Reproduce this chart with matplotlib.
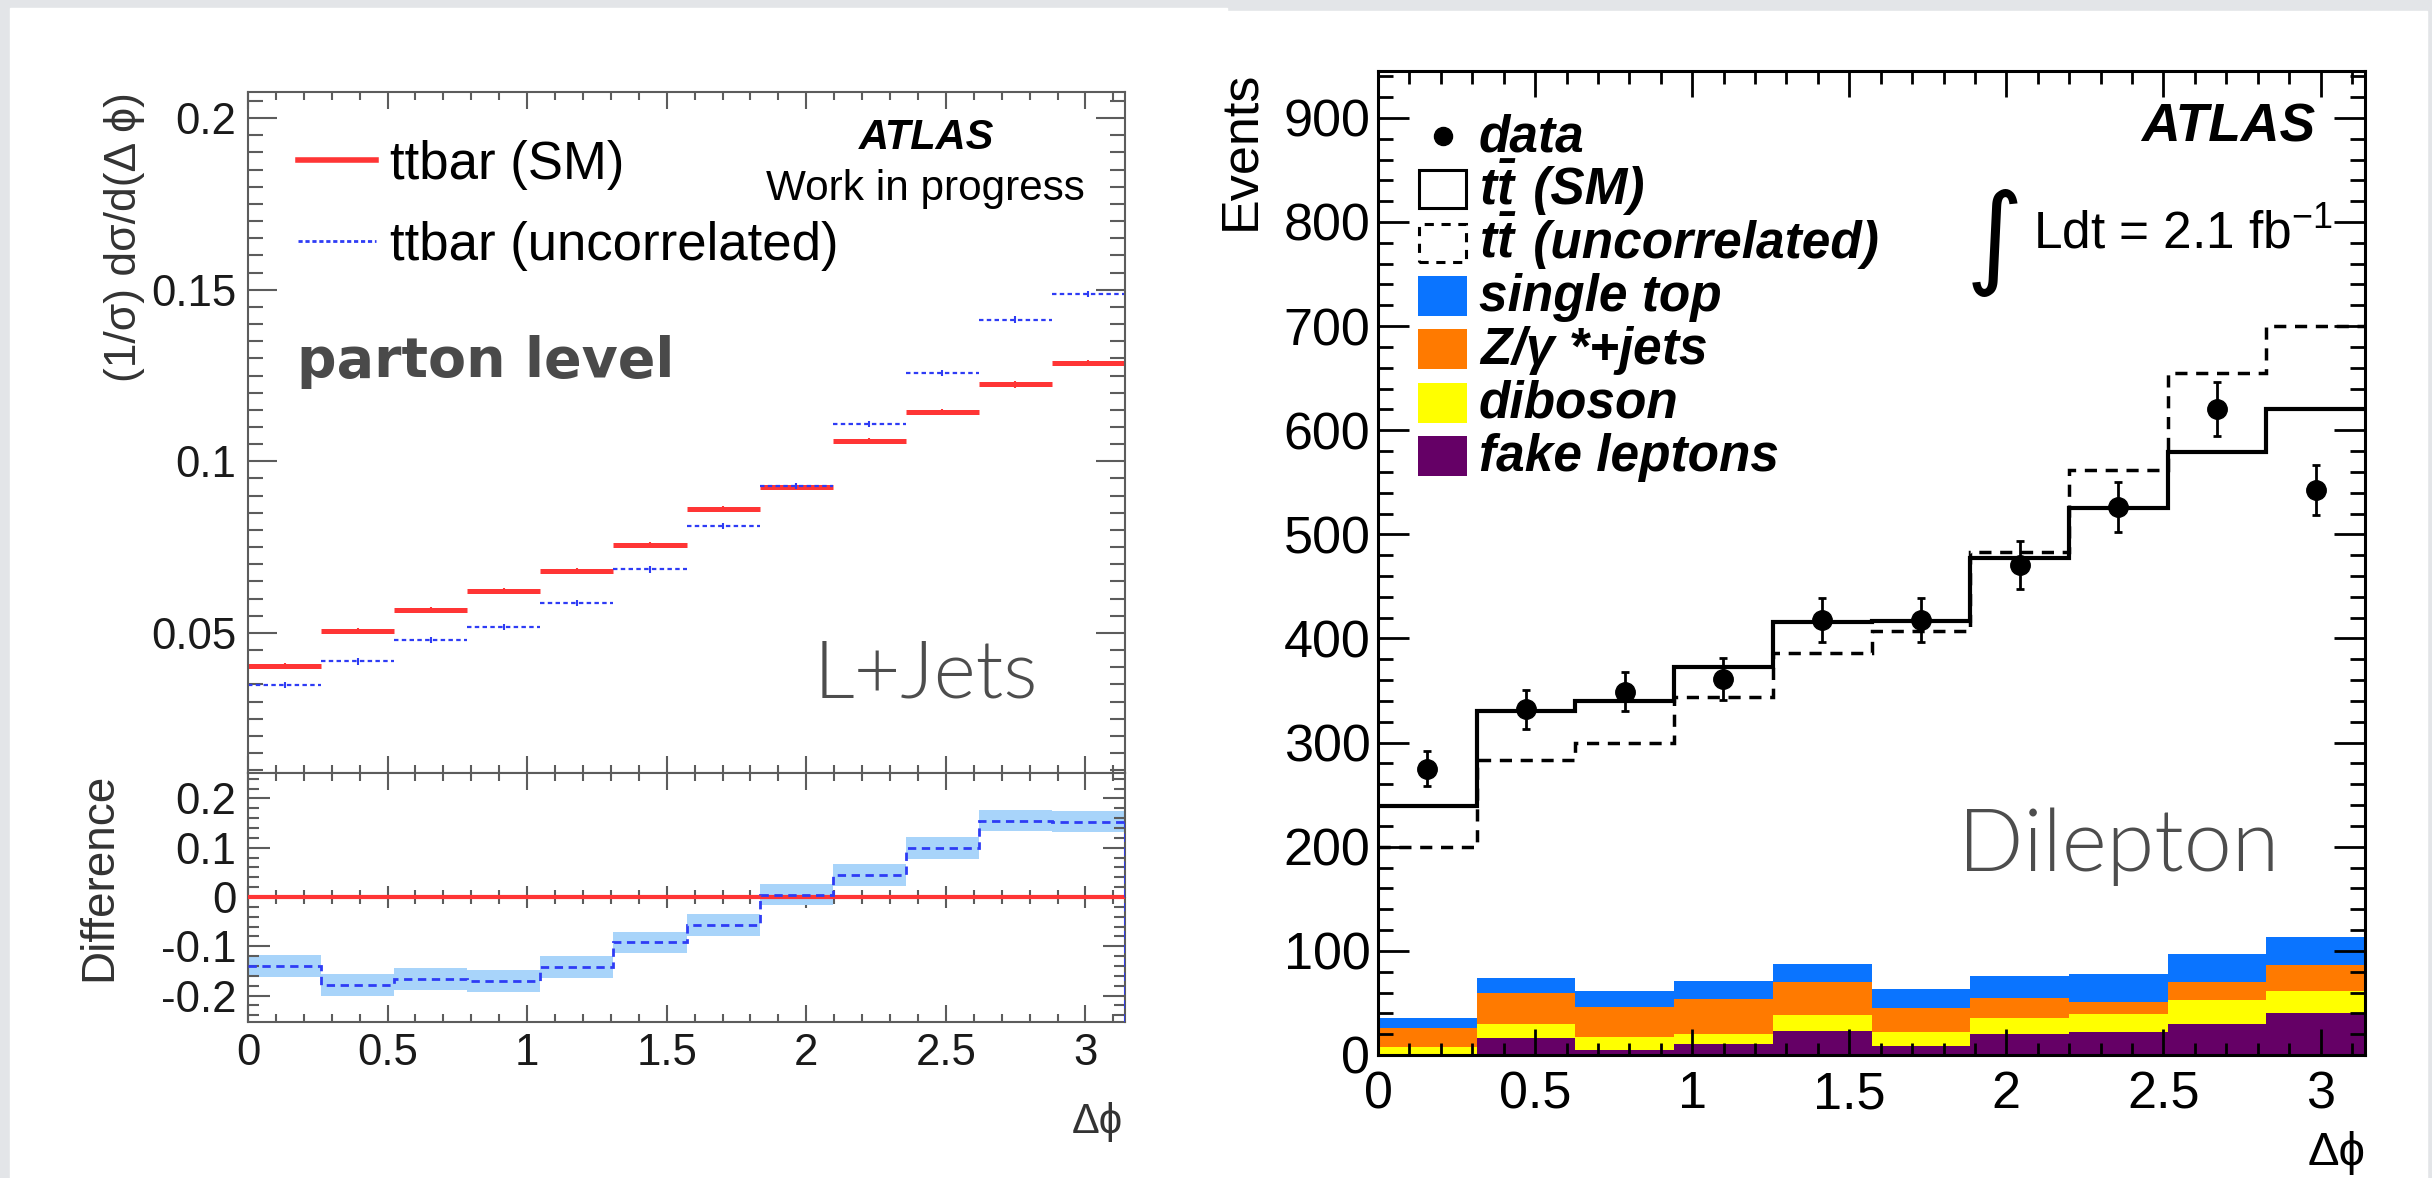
import numpy as np
import matplotlib
matplotlib.use('Agg')
import matplotlib.pyplot as plt
from matplotlib.patches import Rectangle
from matplotlib.lines import Line2D
from matplotlib.ticker import MultipleLocator

plt.rcParams['font.family'] = ['Liberation Sans', 'DejaVu Sans']
plt.rcParams['axes.unicode_minus'] = False
plt.rcParams['mathtext.fontset'] = 'custom'
plt.rcParams['mathtext.rm'] = 'Liberation Sans'
plt.rcParams['mathtext.it'] = 'Liberation Sans:italic'
plt.rcParams['mathtext.bf'] = 'Liberation Sans:bold'
plt.rcParams['mathtext.bfit'] = 'Liberation Sans:italic:bold'

# ---- L+Jets, parton level (12 bins in delta phi) ----
lj_sm = [0.0403, 0.0505, 0.0568, 0.0622, 0.0680, 0.0757, 0.0860, 0.0925, 0.1059, 0.1143, 0.1224, 0.1287]
lj_unc = [0.0348, 0.0417, 0.0479, 0.0518, 0.0587, 0.0685, 0.0812, 0.0928, 0.1109, 0.1257, 0.1413, 0.1487]
lj_err = [0.0009] * 12
lj_diff = [-0.140, -0.178, -0.166, -0.170, -0.142, -0.092, -0.057, 0.005, 0.045, 0.099, 0.155, 0.153]
lj_diff_err = [0.022] * 12

# ---- Dilepton (10 bins) ----
dl_sm = [239, 330, 340, 373, 416, 417, 477, 525, 579, 620]
dl_unc = [200, 283, 300, 344, 386, 407, 483, 562, 655, 700]
dl_data = [275, 332, 349, 361, 418, 418, 471, 526, 620, 543]
dl_data_err = [17, 19, 19, 20, 21, 21, 23, 24, 26, 24]
dl_fake = [1, 16, 5, 11, 23, 9, 20, 22, 30, 40]
dl_diboson = [7, 14, 12, 9, 15, 13, 16, 17, 23, 21]
dl_zjets = [18, 30, 29, 34, 32, 23, 19, 12, 17, 25]
dl_stop = [10, 14, 15, 17, 17, 18, 21, 27, 27, 27]

xtick_vals = [0, 0.5, 1, 1.5, 2, 2.5, 3]
xtick_labels = ['0', '0.5', '1', '1.5', '2', '2.5', '3']

W, H = 2432, 1178
def fx(x):
    return x / W
def fy(y):
    return 1 - y / H

fig = plt.figure(figsize=(W / 100, H / 100), dpi=100)
fig.patch.set_facecolor('#e3e5e8')
fig.patches.append(Rectangle((fx(10), 0), (1227 - 10) / W, (H - 8) / H,
                             transform=fig.transFigure, color='white', zorder=-5))
fig.patches.append(Rectangle((fx(1227), 0), (2427 - 1227) / W, (H - 11) / H,
                             transform=fig.transFigure, color='white', zorder=-5))

red = '#ff3535'
blue = '#2e3cf5'
gray = '#5c5c5c'
c_stop, c_zjets, c_dib, c_fake = '#0a74ff', '#ff7a00', '#ffff00', '#650066'

lj_edges = np.linspace(0, np.pi, len(lj_sm) + 1)
lj_cent = 0.5 * (lj_edges[:-1] + lj_edges[1:])

# upper left: normalised distributions
ax1 = fig.add_axes([fx(248), fy(773), (1125 - 248) / W, (773 - 92) / H])
ax1.hlines(lj_sm, lj_edges[:-1], lj_edges[1:], color=red, lw=3.6)
ax1.errorbar(lj_cent, lj_sm, yerr=lj_err, fmt='none', ecolor=red, elinewidth=1.5)
ax1.hlines(lj_unc, lj_edges[:-1], lj_edges[1:], color=blue, lw=1.6, linestyle=(0, (2, 1.5)))
ax1.errorbar(lj_cent, lj_unc, yerr=lj_err, fmt='none', ecolor=blue, elinewidth=1.5)
ax1.set_xlim(0, np.pi)
ax1.set_ylim(0.0092, 0.2076)
ax1.set_yticks([0.05, 0.1, 0.15, 0.2], ['0.05', '0.1', '0.15', '0.2'])
ax1.yaxis.set_minor_locator(MultipleLocator(0.005))
ax1.xaxis.set_major_locator(MultipleLocator(0.5))
ax1.xaxis.set_minor_locator(MultipleLocator(0.1))
ax1.tick_params(axis='both', which='both', direction='in', top=True, right=True,
                colors=gray, labelcolor='#1a1a1a', labelbottom=False)
ax1.tick_params(axis='y', which='major', length=21, width=1.5, labelsize=31.5, pad=8.5)
ax1.tick_params(axis='y', which='minor', length=10.5, width=1.5)
ax1.tick_params(axis='x', which='major', length=12, width=1.5)
ax1.tick_params(axis='x', which='minor', length=6, width=1.5)
for s in ax1.spines.values():
    s.set_color(gray)
    s.set_linewidth(1.5)

ax1.legend([Line2D([], [], color=red, lw=4),
            Line2D([], [], color=blue, lw=2, linestyle=(0, (1.5, 1)))],
           ['ttbar (SM)', 'ttbar (uncorrelated)'],
           loc='upper left', bbox_to_anchor=(0.057, 0.93), frameon=False,
           fontsize=38, handlelength=1.48, handletextpad=0.27, labelspacing=0.59,
           borderpad=0, borderaxespad=0)

# lower left: difference
ax2 = fig.add_axes([fx(248), fy(1022), (1125 - 248) / W, (1022 - 773) / H])
ylo, yhi = -0.2535, 0.2515
d = np.array(lj_diff)
de = np.array(lj_diff_err)
ax2.fill_between(lj_edges, np.append(d - de, d[-1] - de[-1]), np.append(d + de, d[-1] + de[-1]),
                 step='post', color='#a8d4fa', lw=0)
ax2.axhline(0, color=red, lw=3, zorder=3)
ax2.stairs(lj_diff, lj_edges, baseline=None, color=blue, lw=2, linestyle=(0, (3, 2)), zorder=4)
ax2.vlines(lj_edges[-1], ylo, lj_diff[-1], color=blue, lw=2, linestyle=(0, (3, 2)), zorder=4)
ax2.set_xlim(0, np.pi)
ax2.set_ylim(ylo, yhi)
ax2.set_yticks([-0.2, -0.1, 0, 0.1, 0.2], ['-0.2', '-0.1', '0', '0.1', '0.2'])
ax2.yaxis.set_minor_locator(MultipleLocator(0.02))
ax2.set_xticks(xtick_vals, xtick_labels)
ax2.xaxis.set_minor_locator(MultipleLocator(0.1))
ax2.tick_params(axis='both', which='both', direction='in', top=True, right=True,
                colors=gray, labelcolor='#1a1a1a')
ax2.tick_params(axis='y', which='major', length=16, width=1.5, labelsize=31.5, pad=8.5)
ax2.tick_params(axis='y', which='minor', length=8, width=1.5)
ax2.tick_params(axis='x', which='major', length=12, width=1.5, labelsize=31.5, pad=8)
ax2.tick_params(axis='x', which='minor', length=6, width=1.5)
for s in ax2.spines.values():
    s.set_color(gray)
    s.set_linewidth(1.5)
zero_ax = ax2.secondary_xaxis((0 - ylo) / (yhi - ylo))
zero_ax.set_xticks(xtick_vals, [''] * len(xtick_vals))
zero_ax.xaxis.set_minor_locator(MultipleLocator(0.1))
zero_ax.tick_params(which='both', direction='inout', colors=gray, width=1.5)
zero_ax.tick_params(which='major', length=16)
zero_ax.tick_params(which='minor', length=10)
zero_ax.spines['bottom'].set_visible(False)

fig.text(fx(125), fy(92), '(1/σ) dσ/d(Δ ϕ)', rotation=90, ha='center', va='top',
         fontsize=32, color='#333333')
fig.text(fx(99), fy(773), 'Difference', rotation=90, ha='center', va='top',
         fontsize=33, color='#333333')
fig.text(fx(1123), fy(1122), 'Δϕ', ha='right', va='center', fontsize=30, color='#333333')
fig.text(fx(927), fy(149), 'ATLAS', ha='center', va='baseline', fontsize=30,
         fontweight='bold', style='italic')
fig.text(fx(1085), fy(200), 'Work in progress', ha='right', va='baseline', fontsize=30.4)
fig.text(fx(297), fy(377), 'parton level', ha='left', va='baseline', fontsize=40,
         fontweight='bold', family=['DejaVu Sans'], color='#4a4a4a')
fig.text(fx(814), fy(698), 'L+Jets', ha='left', va='baseline', fontsize=58,
         fontweight=300, family=['Lato', 'DejaVu Sans'], color='#4d4d4d')

# right: dilepton
dl_edges = np.linspace(0, np.pi, len(dl_sm) + 1)
dl_cent = 0.5 * (dl_edges[:-1] + dl_edges[1:])
dl_w = np.diff(dl_edges)

ax3 = fig.add_axes([fx(1378), fy(1055), (2365 - 1378) / W, (1055 - 71) / H])
bottom = np.zeros(len(dl_sm))
for vals, col in [(dl_fake, c_fake), (dl_diboson, c_dib), (dl_zjets, c_zjets), (dl_stop, c_stop)]:
    ax3.bar(dl_edges[:-1], vals, width=dl_w, align='edge', bottom=bottom, color=col, lw=0)
    bottom = bottom + np.array(vals)
ax3.stairs(dl_sm, dl_edges, baseline=None, color='black', lw=3)
ax3.stairs(dl_unc, dl_edges, baseline=None, color='black', lw=2.5, linestyle=(0, (3.5, 2.5)))
ax3.errorbar(dl_cent, dl_data, yerr=dl_data_err, fmt='o', color='black', ms=14,
             elinewidth=2, capsize=3, capthick=2)
ax3.set_xlim(0, np.pi)
ax3.set_ylim(0, 945)
ax3.set_xticks(xtick_vals, xtick_labels)
ax3.xaxis.set_minor_locator(MultipleLocator(0.1))
ax3.yaxis.set_major_locator(MultipleLocator(100))
ax3.yaxis.set_minor_locator(MultipleLocator(20))
ax3.tick_params(axis='both', which='both', direction='in', top=True, right=True, width=2)
ax3.tick_params(axis='y', which='major', length=22, labelsize=37.5, pad=5.5)
ax3.tick_params(axis='y', which='minor', length=11)
ax3.tick_params(axis='x', which='major', length=19, labelsize=37.5, pad=11)
ax3.tick_params(axis='x', which='minor', length=9)
for s in ax3.spines.values():
    s.set_linewidth(2.2)

# legend of the dilepton panel, laid out row by row as in the original
# (the t-tbar symbol is drawn as mathtext, the rest of the label as plain text after it)
leg_labels = [('', 'data'), (r'$\mathbfit{t\bar{t}}$', ' (SM)'),
              (r'$\mathbfit{t\bar{t}}$', ' (uncorrelated)'), ('', 'single top'),
              ('', r'Z/$\mathregular{\gamma}$ *+jets'), ('', 'diboson'), ('', 'fake leptons')]
leg_kinds = ['dot', 'solid', 'dashed', c_stop, c_zjets, c_dib, c_fake]
leg_font = dict(fontsize=37, fontweight='bold', style='italic', va='baseline', ha='left')
renderer = fig.canvas.get_renderer()
row0, row_step = 136, 53.3
for i, ((sym, lab), kind) in enumerate(zip(leg_labels, leg_kinds)):
    yc = row0 + i * row_step
    if kind == 'dot':
        fig.add_artist(Line2D([fx(1443)], [fy(yc)], marker='o', ms=13, color='black',
                              transform=fig.transFigure))
    elif kind in ('solid', 'dashed'):
        fig.add_artist(Rectangle((fx(1419), fy(yc + 19)), 47 / W, 38 / H, transform=fig.transFigure,
                                 facecolor='white', edgecolor='black', lw=2.2,
                                 linestyle='-' if kind == 'solid' else (0, (3, 2.5))))
    else:
        fig.add_artist(Rectangle((fx(1418), fy(yc + 20)), 49 / W, 40 / H, transform=fig.transFigure,
                                 facecolor=kind, edgecolor='none'))
    x_text = 1479
    if sym:
        t_sym = fig.text(fx(x_text), fy(yc + 15), sym, **leg_font)
        x_text = t_sym.get_window_extent(renderer).x1 + 2
    fig.text(fx(x_text), fy(yc + 15), lab, **leg_font)

fig.text(fx(1241), fy(71), 'Events', rotation=90, ha='center', va='top', fontsize=37.5)
fig.text(fx(2366), fy(1153), 'Δϕ', ha='right', va='center', fontsize=34)
fig.text(fx(2315), fy(141), 'ATLAS', ha='right', va='baseline', fontsize=38.5,
         fontweight='bold', style='italic')
fig.text(fx(1966), fy(243), '∫', ha='left', va='center', fontsize=80, family=['DejaVu Sans'])
fig.text(fx(2033), fy(249), r'Ldt = 2.1 fb$^{\mathregular{-1}}$', ha='left', va='baseline',
         fontsize=37)
fig.text(fx(1958), fy(871), 'Dilepton', ha='left', va='baseline', fontsize=62,
         fontweight=300, family=['Lato', 'DejaVu Sans'], color='#4d4d4d')

fig.savefig('out.png', dpi=100, facecolor=fig.get_facecolor())
